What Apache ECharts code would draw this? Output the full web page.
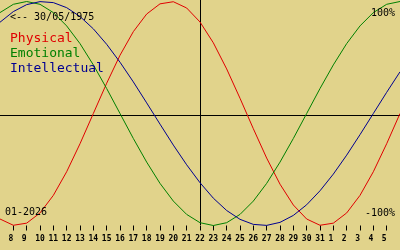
<!DOCTYPE html>
<html>
<head>
<meta charset="utf-8">
<script src="https://cdn.jsdelivr.net/npm/echarts@6/dist/echarts.min.js"></script>
<style>
html,body{margin:0;padding:0;background:#E1D38B;}
#c{width:400px;height:250px;}
</style>
</head>
<body>
<div id="c"></div>
<script>
// Day index (7 = 7 Jan 2026 ... 37 = 6 Feb 2026)
var days = [7,8,9,10,11,12,13,14,15,16,17,18,19,20,21,22,23,24,25,26,27,28,29,30,31,32,33,34,35,36,37];
var physical = [-0.942,-0.998,-0.979,-0.888,-0.731,-0.520,-0.270,0.000,0.270,0.520,0.731,0.888,0.979,0.998,0.942,0.817,0.631,0.398,0.136,-0.136,-0.398,-0.631,-0.817,-0.942,-0.998,-0.979,-0.888,-0.731,-0.520,-0.270,0.000];
var emotional = [0.901,0.975,1.000,0.975,0.901,0.782,0.624,0.434,0.223,0.000,-0.223,-0.434,-0.624,-0.782,-0.901,-0.975,-1.000,-0.975,-0.901,-0.782,-0.624,-0.434,-0.223,0.000,0.223,0.434,0.624,0.782,0.901,0.975,1.000];
var intellectual = [0.815,0.910,0.972,0.999,0.990,0.945,0.866,0.756,0.618,0.458,0.282,0.095,-0.095,-0.282,-0.458,-0.618,-0.756,-0.866,-0.945,-0.990,-0.999,-0.972,-0.910,-0.815,-0.690,-0.541,-0.372,-0.189,0.000,0.189,0.372];
var tickDays = [8,9,10,11,12,13,14,15,16,17,18,19,20,21,22,23,24,25,26,27,28,29,30,31,32,33,34,35,36];
var tickLabels = ["8","9","10","11","12","13","14","15","16","17","18","19","20","21","22","23","24","25","26","27","28","29","30","31","1","2","3","4","5"];
var seriesNames = ["Physical","Emotional","Intellectual"];
var seriesColors = ["#E00000","#008000","#000090"];
var birthText = "<-- 30/05/1975";
var monthText = "01-2026";
var topText = "100%";
var bottomText = "-100%";

function pairs(vals){ return days.map(function(d,i){ return [d, vals[i]]; }); }
var labelMap = {};
tickDays.forEach(function(d,i){ var s = tickLabels[i]; labelMap[d] = s.length < 2 ? s + " " : s; });

var mono = '"DejaVu Sans Mono", monospace';
var chart = echarts.init(document.getElementById('c'), null, {renderer:'canvas'});
chart.setOption({
  backgroundColor: '#E1D38B',
  animation: false,
  grid: {left: 0, right: 0, top: 1.5, bottom: 24.5},
  xAxis: {
    type: 'value', min: 7, max: 37,
    axisLine: {show: false, onZero: false},
    splitLine: {show: false},
    axisTick: {show: true, length: 5, customValues: tickDays, lineStyle: {color: '#000', width: 1}},
    axisLabel: {show: true, customValues: tickDays, margin: 9,
      formatter: function(v){ return labelMap[v] || ''; },
      color: '#000', fontFamily: mono, fontSize: 8, fontWeight: 'bold'}
  },
  yAxis: {
    type: 'value', min: -1, max: 1, show: false
  },
  series: [physical, emotional, intellectual].map(function(vals, i){
    return {
      name: seriesNames[i], type: 'line', data: pairs(vals), showSymbol: false, symbol: 'none',
      smooth: false, lineStyle: {color: seriesColors[i], width: 1}, z: 3
    };
  }),
  graphic: [
    {type:'line', shape:{x1:0, y1:115.5, x2:400, y2:115.5}, style:{stroke:'#000', lineWidth:1}, z: 1},
    {type:'line', shape:{x1:200.5, y1:0, x2:200.5, y2:225}, style:{stroke:'#000', lineWidth:1}, z: 1},
    {type:'text', x:10, y:17, style:{text: birthText, font:'10px ' + mono, fill:'#000', verticalAlign:'middle'}, z: 10},
    {type:'text', x:10, y:38.5, style:{text: seriesNames[0], font:'13px ' + mono, fill: seriesColors[0], verticalAlign:'middle'}, z: 10},
    {type:'text', x:10, y:53.5, style:{text: seriesNames[1], font:'13px ' + mono, fill: seriesColors[1], verticalAlign:'middle'}, z: 10},
    {type:'text', x:10, y:68.5, style:{text: seriesNames[2], font:'13px ' + mono, fill: seriesColors[2], verticalAlign:'middle'}, z: 10},
    {type:'text', x:395, y:13, style:{text: topText, font:'10px ' + mono, fill:'#000', align:'right', verticalAlign:'middle'}, z: 10},
    {type:'text', x:395, y:213, style:{text: bottomText, font:'10px ' + mono, fill:'#000', align:'right', verticalAlign:'middle'}, z: 10},
    {type:'text', x:5, y:212.5, style:{text: monthText, font:'10px ' + mono, fill:'#000', verticalAlign:'middle'}, z: 10}
  ]
});
</script>
</body>
</html>
